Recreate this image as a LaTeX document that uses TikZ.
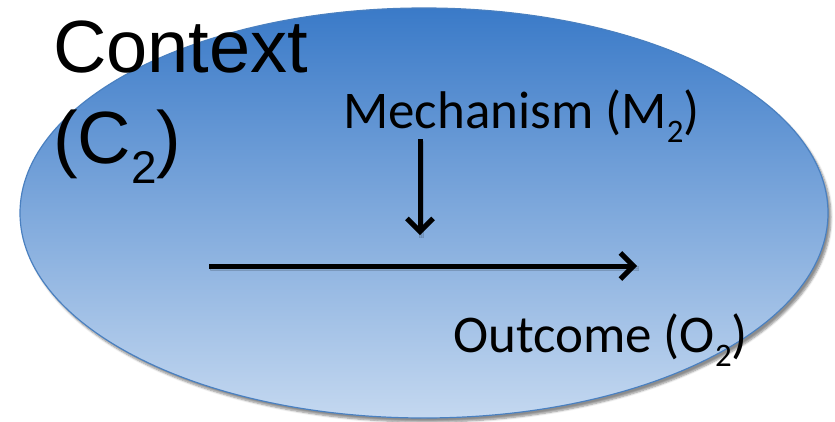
\documentclass[tikz,border=0pt]{standalone}
\usepackage{fontspec}
\setmainfont{Liberation Sans}
\newfontfamily\calib{Carlito}
\usetikzlibrary{shapes.geometric,arrows.meta,shadows.blur}
\definecolor{ctxtop}{HTML}{3A7AC8}
\definecolor{ctxmid}{HTML}{6B9CD6}
\definecolor{ctxbot}{HTML}{C4D8F0}
\definecolor{ctxline}{HTML}{4A80C0}
\newcommand{\lowsub}[1]{\raisebox{-0.28em}{\fontsize{0.62em}{0.7em}\selectfont #1}}
\tikzset{
  context/.style={ellipse, draw=ctxline, line width=1.2pt,
    top color=ctxtop, middle color=ctxmid, bottom color=ctxbot,
    minimum width=808pt, minimum height=410pt, inner sep=0pt,
    blur shadow={shadow xshift=3pt, shadow yshift=-4pt, shadow opacity=45, shadow blur steps=6}},
  bigtext/.style={anchor=base west, inner sep=0pt, font=\fontsize{74}{91}\selectfont, align=left},
  label/.style={anchor=base west, inner sep=0pt, font=\calib\fontsize{53}{60}\selectfont},
  flow/.style={line width=5pt, -{Straight Barb[length=13pt,width=26pt,line width=5pt]},
    blur shadow={shadow xshift=1.5pt, shadow yshift=-2.5pt, shadow opacity=35, shadow blur steps=3}}
}
\begin{document}
\begin{tikzpicture}[x=1pt,y=-1pt]
  \useasboundingbox (0,0) rectangle (835,421);
  \node[context] (ctx) at (424,213) {};
  % the base anchor of a two-line node sits on its last line
  \node[bigtext] (ctxlabel) at (53,163) {Context\\(C\lowsub{2})};
  \node[label] (mech) at (343,128) {Mechanism (M\lowsub{2})};
  \node[label] (out) at (453,352) {Outcome (O\lowsub{2})};
  \coordinate (mtop) at (420,139);
  \coordinate (mend) at (420,235);
  \coordinate (cstart) at (209,266);
  \coordinate (oend) at (637,266);
  \draw[flow] (mtop) -- (mend);
  \draw[flow] (cstart) -- (oend);
\end{tikzpicture}
\end{document}
